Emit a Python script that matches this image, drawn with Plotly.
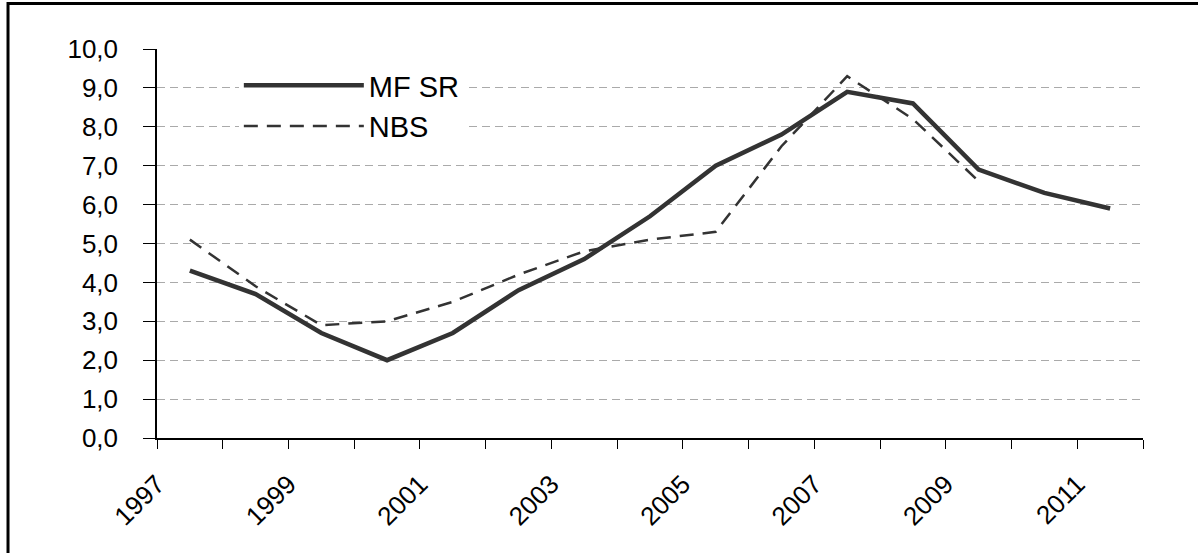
import plotly.graph_objects as go

years = list(range(1997, 2012))
mf_sr = [4.3, 3.7, 2.7, 2.0, 2.7, 3.8, 4.6, 5.7, 7.0, 7.8, 8.9, 8.6, 6.9, 6.3, 5.9]
nbs = [5.1, 3.9, 2.9, 3.0, 3.5, 4.2, 4.8, 5.1, 5.3, 7.5, 9.3, 8.2, 6.6, None, None]
series_names = ["MF SR", "NBS"]

# points sit in the middle of each year's category slot
xpos = [y + 0.5 for y in years]

FONT = "Liberation Sans, Arial, sans-serif"
LINE_COLOR = "#333333"

fig = go.Figure()
fig.add_trace(go.Scatter(
    x=xpos, y=mf_sr, mode="lines", name=series_names[0],
    line=dict(color=LINE_COLOR, width=4.5),
))
fig.add_trace(go.Scatter(
    x=xpos, y=nbs, mode="lines", name=series_names[1],
    line=dict(color=LINE_COLOR, width=2.5, dash="14px,9px"),
))

fig.update_layout(
    width=1198, height=553,
    margin=dict(l=157, r=55, t=49, b=115),
    paper_bgcolor="white", plot_bgcolor="white",
    separators=", ",
    font=dict(family=FONT, size=26, color="black"),
    showlegend=True,
    legend=dict(
        x=0.083, y=0.972, xanchor="left", yanchor="top",
        bgcolor="white", font=dict(size=29, family=FONT),
        itemwidth=120, tracegroupgap=0,
    ),
    xaxis=dict(
        range=[1997, 2012], tick0=1997, dtick=2, tickformat="d",
        tickangle=-45, ticks="outside", ticklen=9, tickcolor="black",
        ticklabelstandoff=10,
        showline=True, linecolor="black", linewidth=1.5,
        showgrid=False, zeroline=False,
        tickfont=dict(size=26, family=FONT),
        minor=dict(dtick=1, tick0=1997, ticks="outside", ticklen=9,
                   tickcolor="black", showgrid=False),
    ),
    yaxis=dict(
        range=[0, 10], tick0=0, dtick=1, tickformat=".1f",
        ticks="outside", ticklen=12, tickcolor="black",
        ticklabelstandoff=20,
        showline=True, linecolor="black", linewidth=1.5,
        showgrid=True, gridcolor="#aaaaaa", gridwidth=1, griddash="8px,5px",
        zeroline=False, tickfont=dict(size=26, family=FONT),
    ),
    shapes=[dict(
        type="rect", xref="paper", yref="paper",
        x0=-0.1511, x1=1.06, y0=-0.33, y1=1.117,
        line=dict(color="black", width=3), fillcolor="rgba(0,0,0,0)",
        layer="above",
    )],
)

fig.write_html(
    "out.html",
    config={"displayModeBar": False},
    post_script="document.body.style.margin='0';document.body.style.overflow='hidden';",
)
